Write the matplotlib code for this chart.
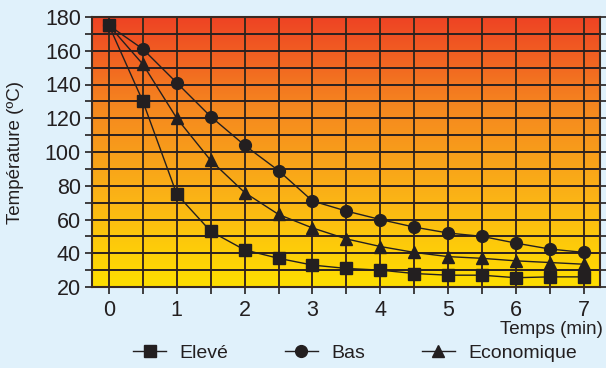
import numpy as np
import matplotlib.pyplot as plt
from matplotlib.colors import LinearSegmentedColormap

plt.rcParams['font.family'] = ['Liberation Sans', 'DejaVu Sans']

# data
temps = [0, 0.5, 1, 1.5, 2, 2.5, 3, 3.5, 4, 4.5, 5, 5.5, 6, 6.5, 7]
eleve = [175, 130, 75, 53, 42, 37, 33, 31, 30, 28, 27, 27, 25.5, 26, 26]
bas = [175, 161, 141, 121, 104, 89, 71, 65, 60, 55.5, 52, 50, 46, 42.5, 40.5]
economique = [175, 152, 120, 95, 76, 63, 55, 48.5, 44, 40.5, 38, 37, 35.5, 34.5, 33.5]
x_ticks = [0, 1, 2, 3, 4, 5, 6, 7]
y_ticks = [20, 40, 60, 80, 100, 120, 140, 160, 180]

bg = '#E0F1FB'
dark = '#231F20'

fig = plt.figure(figsize=(6.06, 3.68), dpi=100, facecolor=bg)
ax = fig.add_axes([92 / 606, 1 - 287 / 368, 508 / 606, 270 / 368])

xmin, xmax = -0.25, 7.24
ymin, ymax = 20, 180

# gradient background (yellow at bottom -> red-orange at top)
cmap = LinearSegmentedColormap.from_list('heat', ['#FFDF00', '#FBB316', '#F5871F', '#EE4324'])
grad = np.linspace(0, 1, 256).reshape(-1, 1)
ax.imshow(grad, cmap=cmap, aspect='auto', origin='lower',
          extent=[xmin, xmax, ymin, ymax], zorder=0)

# grid
for xv in np.arange(0, 7.01, 0.5):
    ax.axvline(xv, color='#3b2a1c', lw=1.4, zorder=1)
for yv in np.arange(30, 180, 10):
    ax.axhline(yv, color='#2b2020', lw=1.4, zorder=1)

ax.plot(temps, eleve, color=dark, lw=1, marker='s', ms=9, zorder=3, label='Elevé')
ax.plot(temps, bas, color=dark, lw=1, marker='o', ms=8.5, zorder=3, label='Bas')
ax.plot(temps, economique, color=dark, lw=1, marker='^', ms=8.5, zorder=3, label='Economique')

ax.set_xlim(xmin, xmax)
ax.set_ylim(ymin, ymax)
ax.set_facecolor('none')

ax.set_xticks(x_ticks)
ax.set_xticks(np.arange(0, 7.01, 0.5), minor=True)
ax.set_yticks(y_ticks)
ax.set_yticks(np.arange(20, 181, 10), minor=True)
ax.tick_params(axis='both', which='both', color=dark, width=1.2, labelcolor=dark)
ax.tick_params(axis='y', which='both', length=5, labelsize=15.5, right=True, pad=3)
ax.tick_params(axis='x', which='both', length=5, labelsize=15.5, pad=4)

for s in ax.spines.values():
    s.set_color('#3a2a22')
    s.set_linewidth(1.5)

ax.set_ylabel('Température (ºC)', fontsize=13.5, color=dark)
ax.yaxis.set_label_coords(-68 / 508, 0.5)
fig.text(603 / 606, 1 - 330 / 368, 'Temps (min)', ha='right', va='center',
         fontsize=13.5, color=dark)

fig.legend(loc='center', bbox_to_anchor=(0.586, 1 - 353 / 368), ncol=3,
           frameon=False, fontsize=14, handlelength=1.7, columnspacing=2.9,
           handletextpad=0.7, labelcolor=dark)

plt.savefig('out.png', dpi=100, facecolor=bg)
